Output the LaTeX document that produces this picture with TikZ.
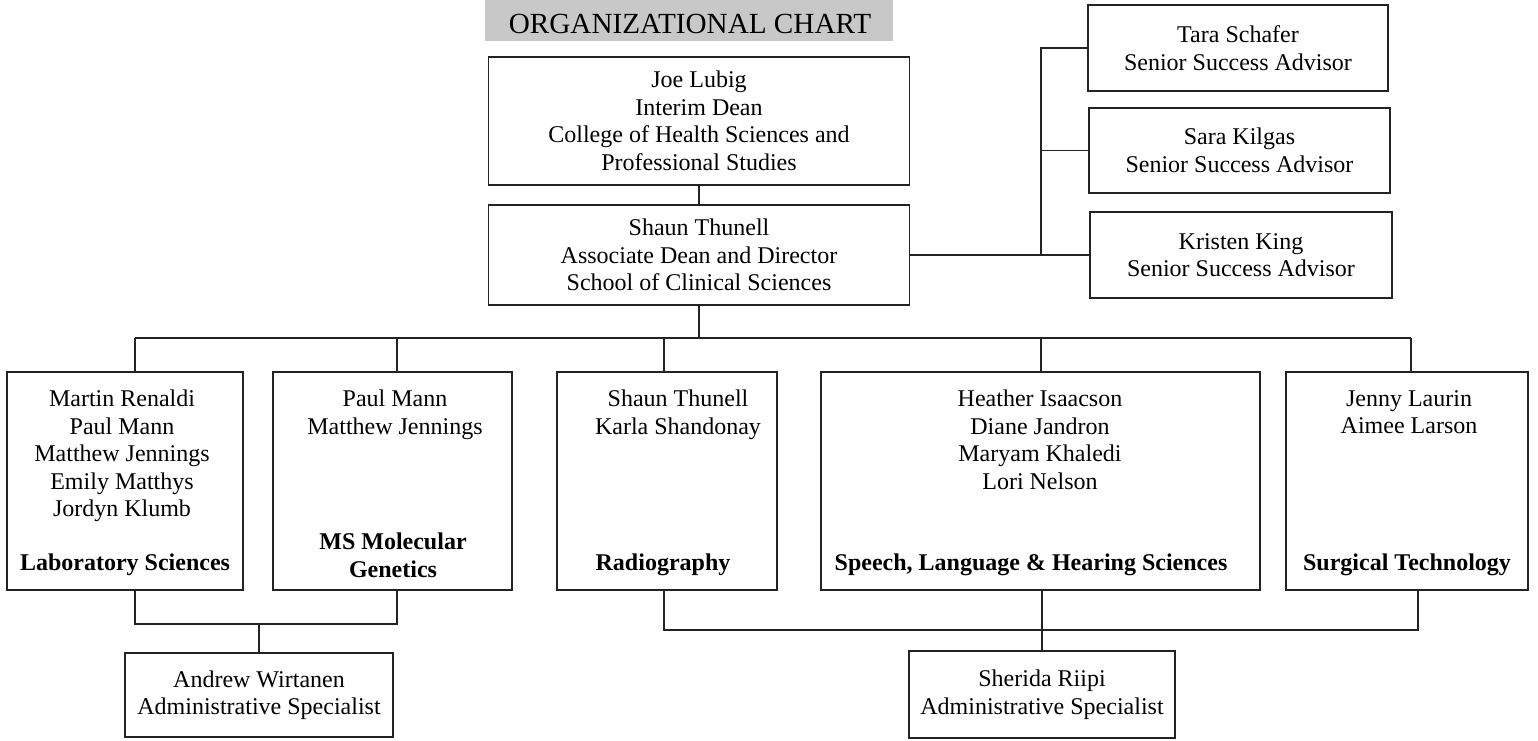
\documentclass[tikz,border=0pt]{standalone}
\usepackage{fontspec}
\setmainfont{Liberation Serif}
\usetikzlibrary{calc}
\definecolor{titlegray}{RGB}{200,200,200}
\definecolor{linec}{RGB}{35,35,35}
\begin{document}
\begin{tikzpicture}[x=1pt,y=-1pt,
  box/.style={draw=linec,line width=1.6pt,rectangle,inner sep=0pt,align=center,
    font=\fontsize{24}{27.5}\selectfont},
  txt/.style={inner sep=0pt,align=center,font=\fontsize{24}{27.5}\selectfont},
  lbl/.style={inner sep=0pt,align=center,font=\fontsize{24}{27.5}\selectfont\bfseries},
  ttl/.style={inner sep=0pt,font=\fontsize{29.2}{32}\selectfont},
  conn/.style={draw=linec,line width=1.6pt}]
\useasboundingbox (0,0) rectangle (1538,740);
% title
\node[fill=titlegray,inner sep=0pt,minimum width=408pt,minimum height=41pt] (titlebg) at (689,20.5) {};
\node[ttl,anchor=base] (title) at (690,33.5) {ORGANIZATIONAL CHART};
% top boxes
\node[box,minimum width=421pt,minimum height=128pt] (joe) at (699,121)
  {Joe Lubig\\Interim Dean\\College of Health Sciences and\\Professional Studies};
\node[box,minimum width=421pt,minimum height=100pt] (shaun) at (699,255)
  {Shaun Thunell\\Associate Dean and Director\\School of Clinical Sciences};
\node[box,minimum width=300pt,minimum height=86pt] (tara) at (1238,48)
  {Tara Schafer\\Senior Success Advisor};
\node[box,minimum width=301pt,minimum height=85pt] (sara) at (1239.5,150.5)
  {Sara Kilgas\\Senior Success Advisor};
\node[box,minimum width=302pt,minimum height=86pt] (kristen) at (1241,255)
  {Kristen King\\Senior Success Advisor};
% program boxes
\node[box,minimum width=236pt,minimum height=218pt] (lab) at (125,481) {};
\node[box,minimum width=239pt,minimum height=218pt] (ms) at (392.5,481) {};
\node[box,minimum width=220pt,minimum height=218pt] (radio) at (667,481) {};
\node[box,minimum width=439pt,minimum height=218pt] (speech) at (1040.5,481) {};
\node[box,minimum width=242pt,minimum height=218pt] (surg) at (1407,481) {};
% names
\node[txt,anchor=north] (labn) at (122,390)
  {Martin Renaldi\\Paul Mann\\Matthew Jennings\\Emily Matthys\\Jordyn Klumb};
\node[txt,anchor=north] (msn) at (395,390) {Paul Mann\\Matthew Jennings};
\node[txt,anchor=north] (radion) at (678,390) {Shaun Thunell\\Karla Shandonay};
\node[txt,anchor=north] (speechn) at (1040,390)
  {Heather Isaacson\\Diane Jandron\\Maryam Khaledi\\Lori Nelson};
\node[txt,anchor=north] (surgn) at (1409,390) {Jenny Laurin\\Aimee Larson};
% labels
\node[lbl,anchor=base] (labl) at (125,570) {Laboratory Sciences};
\node[lbl,anchor=north] (msl) at (393,533) {MS Molecular\\Genetics};
\node[lbl,anchor=base] (radiol) at (663,570) {Radiography};
\node[lbl,anchor=base] (speechl) at (1031,570) {Speech, Language \& Hearing Sciences};
\node[lbl,anchor=base] (surgl) at (1407,570) {Surgical Technology};
% admin boxes
\node[box,minimum width=268pt,minimum height=84pt] (andrew) at (259,695)
  {Andrew Wirtanen\\Administrative Specialist};
\node[box,minimum width=266pt,minimum height=87pt] (sherida) at (1042,694.5)
  {Sherida Riipi\\Administrative Specialist};
% connectors top
\draw[conn] (joe.south) -- (joe.south |- shaun.north);
\coordinate (tk) at (1041,255);
\draw[conn] (shaun.east) -- (kristen.west);
\draw[conn] (tara.west) -| (tk);
\draw[conn] (sara.west) -- (sara.west -| tk);
% bus
\coordinate (bus) at (699,338);
\coordinate (b1) at (135,338);
\coordinate (b2) at (397,338);
\coordinate (b3) at (664,338);
\coordinate (b4) at (1041,338);
\coordinate (b5) at (1411,338);
\draw[conn] (shaun.south) -- (bus);
\draw[conn] (b1) -- (b5);
\draw[conn] (b1) -- (b1 |- lab.north);
\draw[conn] (b2) -- (b2 |- ms.north);
\draw[conn] (b3) -- (b3 |- radio.north);
\draw[conn] (b4) -- (b4 |- speech.north);
\draw[conn] (b5) -- (b5 |- surg.north);
% lower left
\coordinate (l1) at (135,624);
\coordinate (l2) at (397,624);
\draw[conn] (l1 |- lab.south) -- (l1) -- (l2) -- (l2 |- ms.south);
\draw[conn] (andrew.north) -- (andrew.north |- l1);
% lower right
\coordinate (r1) at (664,630);
\coordinate (r2) at (1418,630);
\draw[conn] (r1 |- radio.south) -- (r1) -- (r2) -- (r2 |- surg.south);
\draw[conn] (sherida.north |- speech.south) -- (sherida.north);
\end{tikzpicture}
\end{document}
